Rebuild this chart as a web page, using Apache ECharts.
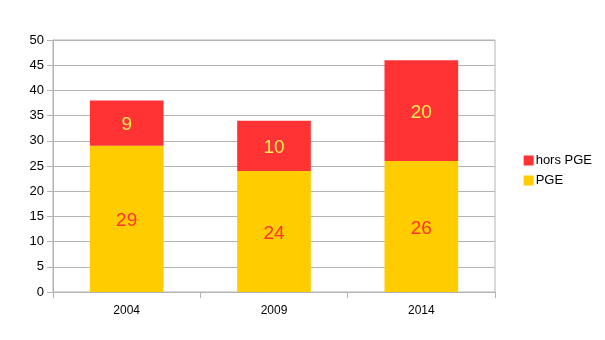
<!DOCTYPE html>
<html>
<head>
<meta charset="utf-8">
<script src="https://cdn.jsdelivr.net/npm/echarts@6/dist/echarts.min.js"></script>
<style>
  html, body { margin: 0; padding: 0; background: #fff; }
  #chart { width: 605px; height: 340px; }
</style>
</head>
<body>
<div id="chart"></div>
<script>
// Years on the category axis
const years = ['2004', '2009', '2014'];
// Stacked segments
const pge = [29, 24, 26];
const horsPge = [9, 10, 20];
// Value axis range
const yMin = 0, yMax = 50, yStep = 5;

const FONT = '"Liberation Sans", Arial, sans-serif';
const GRID_COLOR = '#b3b3b3';
const RED = '#ff3333';
const YELLOW = '#ffcc00';

const chart = echarts.init(document.getElementById('chart'), null, { renderer: 'canvas' });

chart.setOption({
  animation: false,
  textStyle: { fontFamily: FONT },
  grid: {
    left: 53, right: 110, top: 40, bottom: 48,
    show: true, borderColor: GRID_COLOR, borderWidth: 1, backgroundColor: 'transparent'
  },
  legend: {
    orient: 'vertical',
    right: 8,
    top: 149,
    itemWidth: 10,
    itemHeight: 10,
    itemGap: 7,
    icon: 'rect',
    textStyle: { fontFamily: FONT, fontSize: 13, color: '#000', padding: [0, 0, 0, -3] },
    data: ['hors PGE', 'PGE']
  },
  xAxis: {
    type: 'category',
    data: years,
    axisLine: { show: true, lineStyle: { color: GRID_COLOR } },
    axisTick: { show: true, length: 6, lineStyle: { color: GRID_COLOR }, alignWithLabel: false },
    axisLabel: { color: '#000', fontSize: 12, fontFamily: FONT, margin: 13 },
    splitLine: { show: false }
  },
  yAxis: {
    type: 'value',
    min: yMin, max: yMax, interval: yStep,
    axisLine: { show: true, lineStyle: { color: GRID_COLOR } },
    axisTick: { show: true, length: 6, lineStyle: { color: GRID_COLOR } },
    axisLabel: { color: '#000', fontSize: 13, fontFamily: FONT, margin: 9 },
    splitLine: { show: true, lineStyle: { color: GRID_COLOR, width: 1 } }
  },
  series: [
    {
      name: 'PGE',
      type: 'bar',
      stack: 'total',
      barWidth: '50%',
      data: pge,
      itemStyle: { color: YELLOW },
      label: {
        show: true, position: 'inside', offset: [0, 2],
        color: RED, fontSize: 19, fontFamily: FONT
      }
    },
    {
      name: 'hors PGE',
      type: 'bar',
      stack: 'total',
      barWidth: '50%',
      data: horsPge,
      itemStyle: { color: RED },
      label: {
        show: true, position: 'inside', offset: [0, 2],
        color: '#ffee55', fontSize: 19, fontFamily: FONT
      }
    }
  ]
});
</script>
</body>
</html>
